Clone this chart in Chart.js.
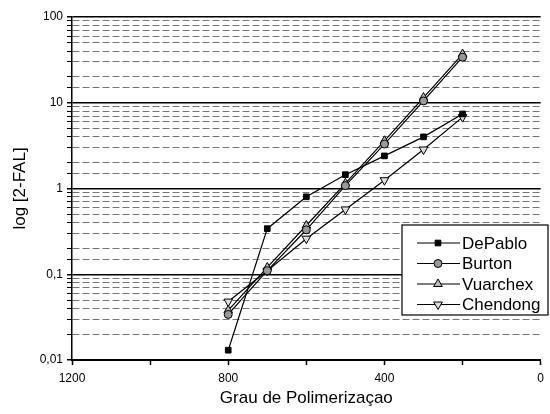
<!DOCTYPE html>
<html>
<head>
<meta charset="utf-8">
<script src="https://cdn.jsdelivr.net/npm/chart.js@4/dist/chart.umd.min.js"></script>
<style>
  html, body { margin: 0; padding: 0; background: #fff; }
  #wrap { width: 550px; height: 414px; }
</style>
</head>
<body>
<div id="wrap"><canvas id="myChart" width="550" height="414"></canvas></div>
<script>
// degree of polymerisation (x) and 2-FAL values for each model
const degree = [800, 700, 600, 500, 400, 300, 200];
const dePablo = [0.013, 0.34, 0.8, 1.45, 2.4, 4.0, 7.4];
const burton = [0.034, 0.11, 0.33, 1.08, 3.3, 10.5, 34];
const vuarchex = [0.038, 0.12, 0.37, 1.15, 3.6, 11.5, 37];
const chendong = [0.048, 0.11, 0.26, 0.57, 1.25, 2.85, 6.8];

const xTickLabels = [1200, 800, 400, 0];
const yTickLabels = {0.01: '0,01', 0.1: '0,1', 1: '1', 10: '10', 100: '100'};

const FONT = '"Liberation Sans", Arial, Helvetica, sans-serif';

function pts(values) {
  return degree.map((d, i) => ({x: d, y: values[i]}));
}

function isDecade(v) {
  const l = Math.log10(v);
  return Math.abs(l - Math.round(l)) < 1e-6;
}

// legend box drawn inside the plot, lower right
const boxLegend = {
  id: 'boxLegend',
  afterDraw(chart) {
    const c = chart.ctx;
    const left = 402, top = 225, w = 146, h = 90;
    c.save();
    c.fillStyle = '#fff';
    c.fillRect(left, top, w, h);
    c.strokeStyle = '#000';
    c.lineWidth = 1.2;
    c.strokeRect(left, top, w, h);
    c.font = '17px ' + FONT;
    c.textBaseline = 'middle';
    chart.data.datasets.forEach((ds, i) => {
      const y = 243 + i * 20.5;
      c.strokeStyle = '#000';
      c.lineWidth = 1.2;
      c.beginPath();
      c.moveTo(417, y);
      c.lineTo(460, y);
      c.stroke();
      c.fillStyle = ds.pointBackgroundColor;
      c.strokeStyle = '#000';
      c.lineWidth = 1;
      Chart.helpers.drawPoint(c, {
        pointStyle: ds.pointStyle,
        radius: ds.pointRadius,
        rotation: ds.pointRotation || 0,
        borderWidth: 1
      }, 438, y);
      c.fillStyle = '#000';
      c.fillText(ds.label, 462, y + 1);
    });
    c.restore();
  }
};

const ctx = document.getElementById('myChart');

function series(label, values, style, fill, radius, rotation) {
  return {
    label: label,
    data: pts(values),
    borderColor: '#000',
    borderWidth: 1.2,
    pointStyle: style,
    pointRadius: radius,
    pointRotation: rotation,
    pointBackgroundColor: fill,
    pointBorderColor: '#000',
    pointBorderWidth: 1,
    fill: false,
    tension: 0
  };
}

new Chart(ctx, {
  type: 'line',
  data: {
    datasets: [
      series('DePablo', dePablo, 'rect', '#000', 4, 0),
      series('Burton', burton, 'circle', '#999', 4, 0),
      series('Vuarchex', vuarchex, 'triangle', '#bbb', 5, 0),
      series('Chendong', chendong, 'triangle', '#ddd', 5, 180)
    ]
  },
  options: {
    responsive: false,
    animation: false,
    layout: { padding: { left: 0, right: 5, top: 17, bottom: 0 } },
    plugins: {
      legend: { display: false },
      tooltip: { enabled: false }
    },
    scales: {
      x: {
        type: 'linear',
        reverse: true,
        min: 0,
        max: 1200,
        afterFit: function (scale) { scale.height = 54; },
        ticks: {
          stepSize: 200,
          autoSkip: false,
          maxRotation: 0,
          padding: 6,
          color: '#000',
          font: { family: FONT, size: 12 },
          callback: function (v) { return xTickLabels.includes(v) ? String(v) : ''; }
        },
        grid: {
          drawOnChartArea: false,
          drawTicks: true,
          tickLength: 5,
          tickColor: '#000',
          tickWidth: 1.5
        },
        border: { display: true, color: '#000', width: 2 },
        title: {
          display: true,
          text: 'Grau de Polimerizaçao',
          color: '#000',
          font: { family: FONT, size: 17 },
          padding: { top: 0, bottom: 5 }
        }
      },
      y: {
        type: 'logarithmic',
        min: 0.01,
        max: 100,
        afterFit: function (scale) { scale.width = 72; },
        ticks: {
          autoSkip: false,
          padding: 4,
          color: '#000',
          font: { family: FONT, size: 12 },
          callback: function (v) { return isDecade(v) ? yTickLabels[Math.pow(10, Math.round(Math.log10(v)))] : ''; }
        },
        grid: {
          drawTicks: true,
          tickLength: 5,
          tickColor: '#000',
          color: function (c) { return c.tick && isDecade(c.tick.value) ? '#000' : '#777'; },
          lineWidth: function (c) { return c.tick && isDecade(c.tick.value) ? 1.5 : 1; },
          borderDash: function (c) { return c.tick && isDecade(c.tick.value) ? [] : [7, 3]; }
        },
        border: {
          display: true, color: '#000', width: 1.5,
          dash: function (c) { return c.tick && isDecade(c.tick.value) ? [] : [7, 3]; }
        },
        title: {
          display: true,
          text: 'log [2-FAL]',
          color: '#000',
          font: { family: FONT, size: 17 },
          padding: { top: 10, bottom: 0 }
        }
      }
    }
  },
  plugins: [boxLegend]
});
</script>
</body>
</html>
